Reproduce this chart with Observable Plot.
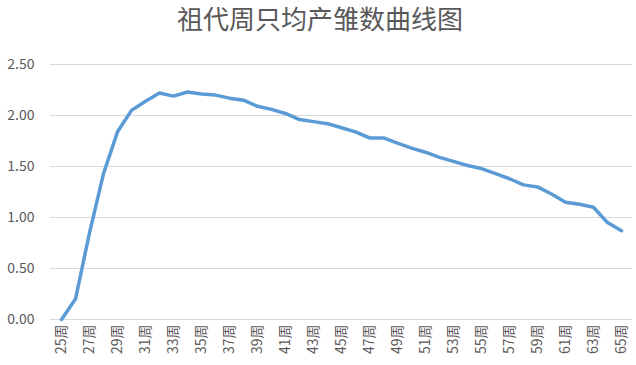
<!DOCTYPE html>
<html>
<head>
<meta charset="utf-8">
<script src="https://cdn.jsdelivr.net/npm/d3@7"></script>
<script src="https://cdn.jsdelivr.net/npm/@observablehq/plot@0.6"></script>
<style>
  html, body { margin: 0; padding: 0; background: #fff; }
  #title { width: 636px; height: 40px; line-height: 36px; text-align: center;
    font-family: "Noto Sans CJK SC", sans-serif; font-size: 26px; color: #595959; padding-left: 4px; box-sizing: border-box; }
</style>
</head>
<body>
<div id="title">祖代周只均产雏数曲线图</div>
<div id="chart"></div>
<script>
const weeks = [25,26,27,28,29,30,31,32,33,34,35,36,37,38,39,40,41,42,43,44,45,
  46,47,48,49,50,51,52,53,54,55,56,57,58,59,60,61,62,63,64,65];
const values = [0.00,0.20,0.85,1.43,1.84,2.05,2.14,2.22,2.19,2.23,2.21,2.20,2.17,2.15,2.09,2.06,2.02,1.96,1.94,1.92,1.88,
  1.84,1.78,1.78,1.73,1.68,1.64,1.59,1.55,1.51,1.48,1.43,1.38,1.32,1.30,1.23,1.15,1.13,1.10,0.95,0.87];
const yTicks = [0, 0.5, 1, 1.5, 2, 2.5];
const xTickWeeks = weeks.filter((w, i) => i % 2 === 0);

const data = weeks.map((w, i) => ({week: w, value: values[i]}));

const chart = Plot.plot({
  width: 636,
  height: 325,
  marginTop: 24,
  marginBottom: 46,
  marginLeft: 50,
  marginRight: 4,
  style: {fontFamily: "'Noto Sans CJK SC', sans-serif", fontSize: "13px", color: "#595959", background: "#fff"},
  x: {type: "point", domain: weeks, padding: 0.5, label: null},
  y: {domain: [0, 2.5], label: null},
  marks: [
    Plot.ruleY(yTicks, {stroke: "#d9d9d9", strokeWidth: 1.2}),
    Plot.axisY({ticks: yTicks, tickFormat: d3.format(".2f"), tickSize: 0, tickPadding: 16, label: null, fontSize: 14}),
    Plot.axisX({ticks: xTickWeeks, tickFormat: d => d + "周", tickSize: 0, tickPadding: 5, tickRotate: -90, label: null, fontSize: 14}),
    Plot.line(data, {x: "week", y: "value", stroke: "#5b9bd5", strokeWidth: 3.5, strokeLinejoin: "round", strokeLinecap: "round"})
  ]
});
document.getElementById("chart").appendChild(chart);
</script>
</body>
</html>
